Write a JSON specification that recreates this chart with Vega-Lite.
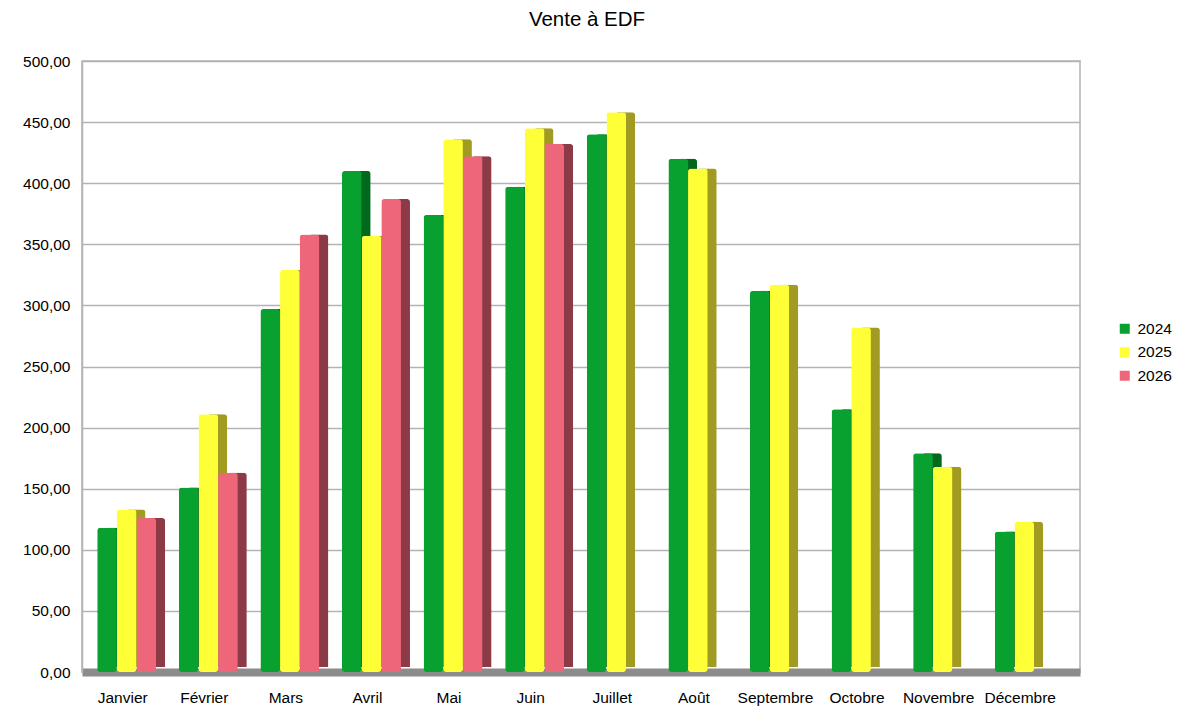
{
  "$schema": "https://vega.github.io/schema/vega-lite/v6.json",
  "description": "Vente à EDF, colonnes groupées par mois et par année (effet 3D simulé par une face latérale décalée)",
  "autosize": "none",
  "padding": {"left": 82, "top": 61, "right": 101, "bottom": 44},
  "width": 998,
  "height": 611,
  "background": "#ffffff",
  "config": {
    "font": "Liberation Sans",
    "view": {"stroke": "#b3b3b3", "strokeWidth": 1.5},
    "axis": {"labelFont": "Liberation Sans", "labelColor": "#000000", "labelFontSize": 15.5, "title": null}
  },
  "title": {
    "text": "Vente à EDF",
    "fontSize": 20.5,
    "fontWeight": "normal",
    "font": "Liberation Sans",
    "color": "#000000",
    "anchor": "middle",
    "dx": 6,
    "offset": 24
  },
  "data": {
    "values": [
      {"mois": "Janvier", "annee": "2024", "valeur": 118},
      {"mois": "Janvier", "annee": "2025", "valeur": 133},
      {"mois": "Janvier", "annee": "2026", "valeur": 126},
      {"mois": "Février", "annee": "2024", "valeur": 151},
      {"mois": "Février", "annee": "2025", "valeur": 211},
      {"mois": "Février", "annee": "2026", "valeur": 163},
      {"mois": "Mars", "annee": "2024", "valeur": 297},
      {"mois": "Mars", "annee": "2025", "valeur": 329},
      {"mois": "Mars", "annee": "2026", "valeur": 358},
      {"mois": "Avril", "annee": "2024", "valeur": 410},
      {"mois": "Avril", "annee": "2025", "valeur": 357},
      {"mois": "Avril", "annee": "2026", "valeur": 387},
      {"mois": "Mai", "annee": "2024", "valeur": 374},
      {"mois": "Mai", "annee": "2025", "valeur": 436},
      {"mois": "Mai", "annee": "2026", "valeur": 422},
      {"mois": "Juin", "annee": "2024", "valeur": 397},
      {"mois": "Juin", "annee": "2025", "valeur": 445},
      {"mois": "Juin", "annee": "2026", "valeur": 432},
      {"mois": "Juillet", "annee": "2024", "valeur": 440},
      {"mois": "Juillet", "annee": "2025", "valeur": 458},
      {"mois": "Juillet", "annee": "2026", "valeur": 0},
      {"mois": "Août", "annee": "2024", "valeur": 420},
      {"mois": "Août", "annee": "2025", "valeur": 412},
      {"mois": "Août", "annee": "2026", "valeur": 0},
      {"mois": "Septembre", "annee": "2024", "valeur": 312},
      {"mois": "Septembre", "annee": "2025", "valeur": 317},
      {"mois": "Septembre", "annee": "2026", "valeur": 0},
      {"mois": "Octobre", "annee": "2024", "valeur": 215},
      {"mois": "Octobre", "annee": "2025", "valeur": 282},
      {"mois": "Octobre", "annee": "2026", "valeur": 0},
      {"mois": "Novembre", "annee": "2024", "valeur": 179},
      {"mois": "Novembre", "annee": "2025", "valeur": 168},
      {"mois": "Novembre", "annee": "2026", "valeur": 0},
      {"mois": "Décembre", "annee": "2024", "valeur": 115},
      {"mois": "Décembre", "annee": "2025", "valeur": 123},
      {"mois": "Décembre", "annee": "2026", "valeur": 0}
    ]
  },
  "encoding": {
    "x": {
      "field": "mois",
      "type": "nominal",
      "sort": ["Janvier", "Février", "Mars", "Avril", "Mai", "Juin", "Juillet", "Août", "Septembre", "Octobre", "Novembre", "Décembre"],
      "scale": {"paddingInner": 0.277, "paddingOuter": 0.254, "align": 0.27},
      "axis": {
        "labelAngle": 0,
        "ticks": false,
        "labelPadding": 18,
        "domainColor": "#8c8c8c",
        "domainWidth": 8
      }
    },
    "y": {
      "field": "valeur",
      "type": "quantitative",
      "scale": {"domain": [0, 500], "nice": false},
      "axis": {
        "values": [0, 50, 100, 150, 200, 250, 300, 350, 400, 450, 500],
        "labelExpr": "replace(format(datum.value, '.2f'), '.', ',')",
        "ticks": false,
        "labelPadding": 12,
        "domainColor": "#b3b3b3",
        "domainWidth": 1.5,
        "gridColor": "#b3b3b3",
        "gridWidth": 1.5
      }
    }
  },
  "layer": [
    {
      "mark": {"type": "bar", "yOffset": -5, "cornerRadius": 3},
      "encoding": {
        "xOffset": {"field": "annee", "type": "nominal", "scale": {"range": [13, 72]}},
        "color": {
          "field": "annee",
          "type": "nominal",
          "scale": {"domain": ["2024", "2025", "2026"], "range": ["#00691b", "#a19b22", "#8b3a46"]},
          "legend": null
        }
      }
    },
    {
      "mark": {"type": "bar", "cornerRadius": 3},
      "encoding": {
        "xOffset": {"field": "annee", "type": "nominal", "scale": {"range": [4, 63]}},
        "color": {
          "field": "annee",
          "type": "nominal",
          "scale": {"domain": ["2024", "2025", "2026"], "range": ["#08a12f", "#ffff38", "#ee667a"]},
          "legend": {
            "title": null,
            "orient": "none",
            "legendX": 1035,
            "legendY": 260,
            "padding": 0,
            "symbolType": "square",
            "symbolSize": 100,
            "symbolStrokeWidth": 0,
            "labelFont": "Liberation Sans",
            "labelFontSize": 15.5,
            "labelColor": "#000000",
            "labelOffset": 5,
            "rowPadding": 6.5
          }
        }
      }
    }
  ],
  "resolve": {"scale": {"color": "independent", "xOffset": "independent"}}
}
